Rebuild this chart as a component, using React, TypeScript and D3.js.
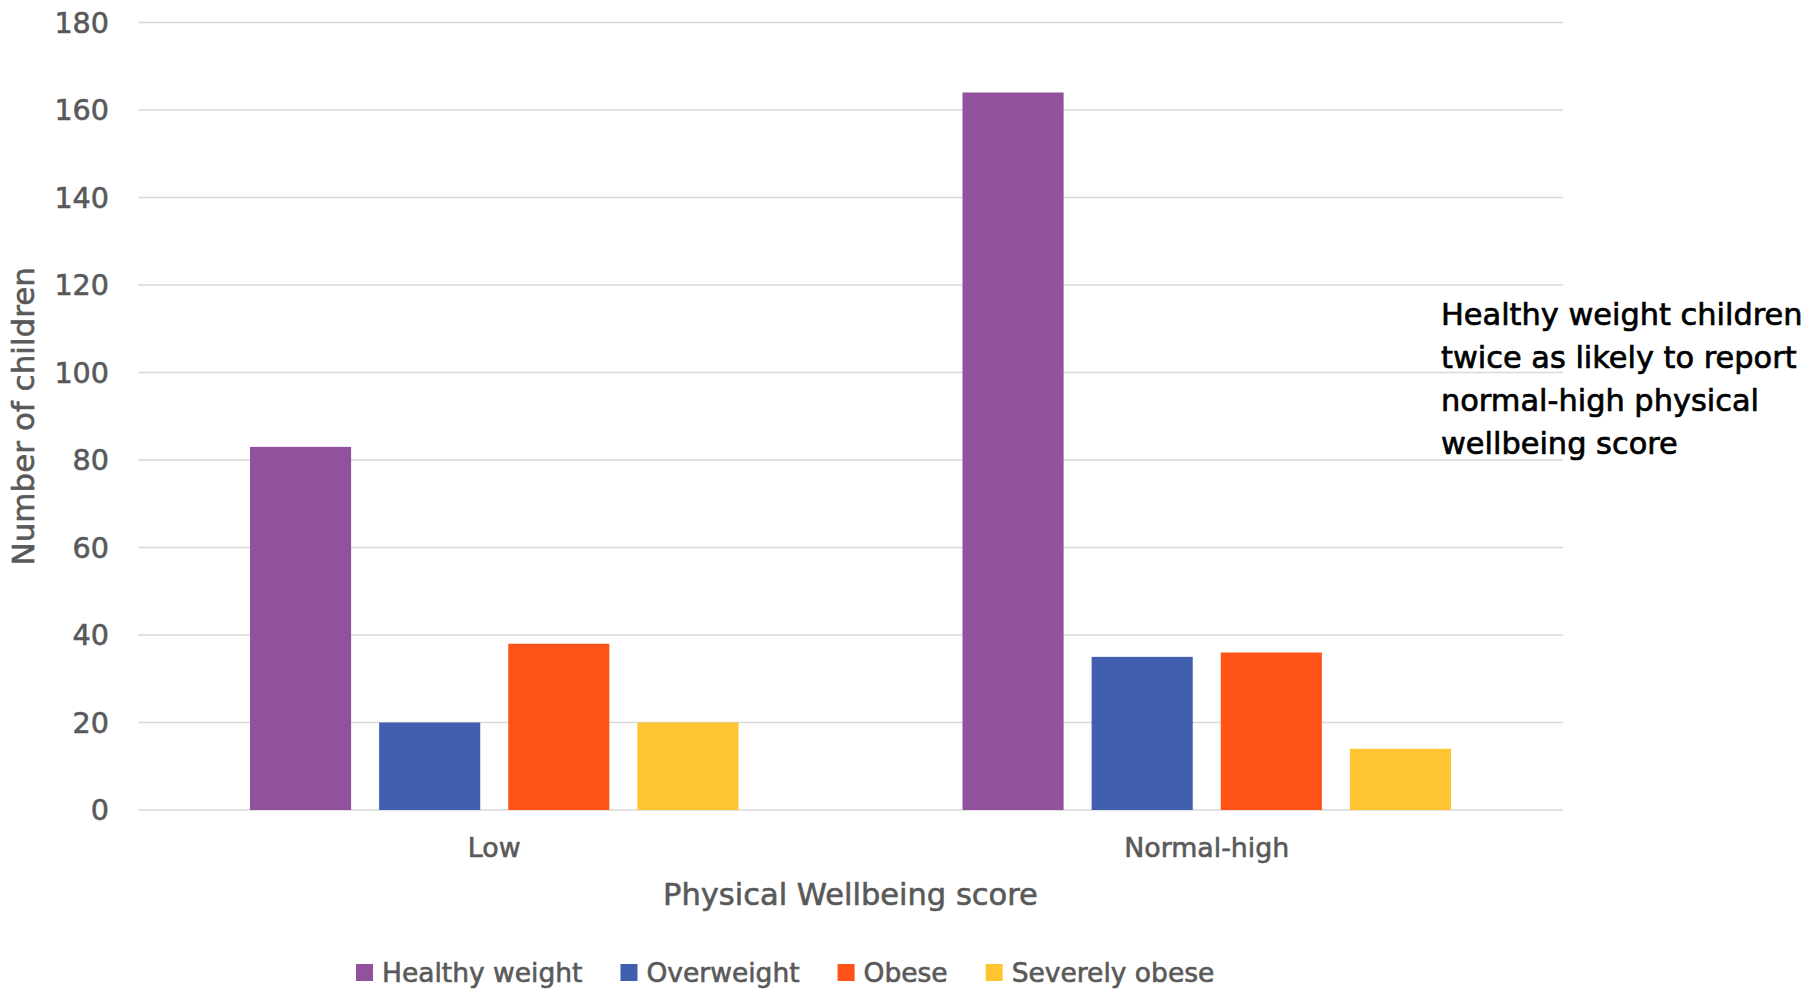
import React, { useEffect, useRef } from "react";
import * as d3 from "d3";

const categories = ["Low", "Normal-high"];
const seriesNames = ["Healthy weight", "Overweight", "Obese", "Severely obese"];
const healthyWeight = [83, 164];
const overweight = [20, 35];
const obese = [38, 36];
const severelyObese = [20, 14];
const seriesValues = [healthyWeight, overweight, obese, severelyObese];
const seriesColors = ["#92519D", "#4060AF", "#FF5317", "#FEC530"];
const yTicks = [0, 20, 40, 60, 80, 100, 120, 140, 160, 180];
const yTitle = "Number of children";
const xTitle = "Physical Wellbeing score";
const noteLines = [
  "Healthy weight children",
  "twice as likely to report",
  "normal-high physical",
  "wellbeing score",
];

const W = 1817;
const H = 991;
const FONT = "'DejaVu Sans', sans-serif";
const GRAY = "#595959";

export default function App() {
  const ref = useRef<SVGSVGElement>(null);

  useEffect(() => {
    const svg = d3.select(ref.current);
    svg.selectAll("*").remove();

    const left = 138, right = 1563, top = 22.5, bottom = 810;
    const y = d3.scaleLinear().domain([0, 180]).range([bottom, top]);
    const x0 = d3.scaleBand<string>().domain(categories).range([left, right]).padding(0);
    const bw = x0.bandwidth();
    const x1 = d3
      .scaleBand<string>()
      .domain(seriesNames)
      .range([112, bw - 112])
      .paddingInner(0.217)
      .paddingOuter(0);

    const grayText = (sel: any, size: number) =>
      sel
        .attr("font-family", FONT)
        .attr("font-size", size)
        .attr("fill", GRAY)
        .attr("stroke", GRAY)
        .attr("stroke-width", 0.6);

    // gridlines
    svg
      .append("g")
      .selectAll("line")
      .data(yTicks)
      .join("line")
      .attr("x1", left)
      .attr("x2", right)
      .attr("y1", (d) => y(d))
      .attr("y2", (d) => y(d))
      .attr("stroke", "#D9D9D9")
      .attr("stroke-width", 1.5);

    // tick labels
    grayText(
      svg
        .append("g")
        .selectAll("text")
        .data(yTicks)
        .join("text")
        .attr("x", 109)
        .attr("y", (d) => y(d) + 10)
        .attr("text-anchor", "end"),
      28.6
    ).text((d: number) => String(d));

    // bars
    const groups = svg
      .append("g")
      .selectAll("g")
      .data(categories)
      .join("g")
      .attr("transform", (c) => `translate(${x0(c)},0)`);
    groups
      .selectAll("rect")
      .data((c) => seriesNames.map((s, si) => ({ s, si, v: seriesValues[si][categories.indexOf(c)] })))
      .join("rect")
      .attr("x", (d) => x1(d.s)!)
      .attr("width", x1.bandwidth())
      .attr("y", (d) => y(d.v))
      .attr("height", (d) => y(0) - y(d.v))
      .attr("fill", (d) => seriesColors[d.si]);

    // category labels
    grayText(
      svg
        .append("g")
        .selectAll("text")
        .data(categories)
        .join("text")
        .attr("x", (c) => x0(c)! + bw / 2)
        .attr("y", 857)
        .attr("text-anchor", "middle"),
      26.8
    ).text((c: string) => c);

    // axis titles
    grayText(
      svg
        .append("text")
        .attr("x", (left + right) / 2)
        .attr("y", 905)
        .attr("text-anchor", "middle"),
      30.5
    ).text(xTitle);
    grayText(
      svg
        .append("text")
        .attr("transform", `translate(34,${(top + bottom) / 2}) rotate(-90)`)
        .attr("text-anchor", "middle"),
      31
    ).text(yTitle);

    // legend
    const lg = svg.append("g");
    let lx = 356;
    seriesNames.forEach((s, i) => {
      lg.append("rect")
        .attr("x", lx)
        .attr("y", 964)
        .attr("width", 17)
        .attr("height", 17)
        .attr("fill", seriesColors[i]);
      const t = grayText(
        lg
          .append("text")
          .attr("x", lx + 26)
          .attr("y", 982),
        26.5
      ).text(s);
      const w = (t.node() as SVGTextElement).getComputedTextLength();
      lx = lx + 26 + w + 38;
    });

    // annotation
    const note = svg
      .append("text")
      .attr("font-family", FONT)
      .attr("font-size", 30.4)
      .attr("fill", "#000000")
      .attr("stroke", "#000000")
      .attr("stroke-width", 0.7);
    noteLines.forEach((line, i) => {
      note
        .append("tspan")
        .attr("x", 1441)
        .attr("y", 325 + i * 43)
        .text(line);
    });
  }, []);

  return (
    <svg
      ref={ref}
      width={W}
      height={H}
      style={{ position: "absolute", left: 0, top: 0, background: "#ffffff" }}
    />
  );
}
